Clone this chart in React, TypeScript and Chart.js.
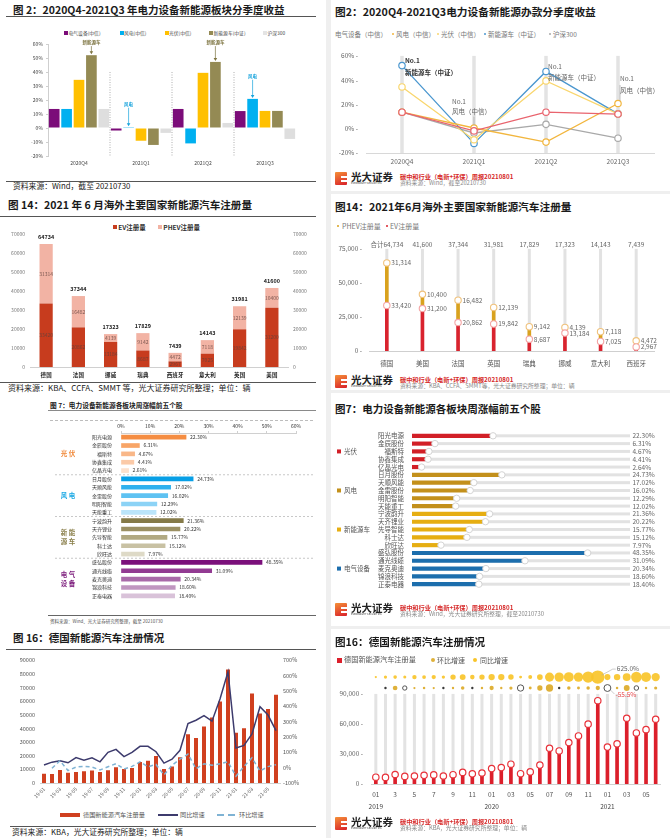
import React, { useEffect, useRef } from 'react';
import { Chart, registerables } from 'chart.js';

Chart.register(...registerables);

const FONT = '"Noto Sans CJK SC", "Noto Sans", sans-serif';
const SERIF = '"Noto Sans CJK SC", "DejaVu Serif", serif';
Chart.defaults.font.family = FONT;

// ---------------- data ----------------
const quarterCats = ['2020Q4', '2021Q1', '2021Q2', '2021Q3'];
const elecEquipRet = [13.6, -1.8, 13.6, 12.1];
const windPowerRet = [13.6, 0.6, -11.0, 20.8];
const solarPVRet = [34.4, -9.1, 39.4, 12.2];
const nevSectorRet = [52.0, -12.1, 47.2, 12.2];
const csi300Ret = [13.6, -3.5, 3.6, -7.8];
const quarterNamesL = ['电气设备(中信)', '风电(中信)', '光伏(中信)', '新能源车(中证)', '沪深300'];
const quarterNamesR = ['电气设备（中信）', '风电（中信）', '光伏（中信）', '新能源车（中证）', '沪深300'];

const countriesL = ['德国', '法国', '挪威', '瑞典', '西班牙', '意大利', '英国', '美国'];
const evL = [33420, 20862, 13184, 8687, 2967, 7025, 19842, 31200];
const phevL = [31314, 16482, 4139, 9142, 4472, 7118, 12139, 10400];
const totalL = [64734, 37344, 17323, 17829, 7439, 14143, 31981, 41600];

const countriesR = ['德国', '美国', '法国', '英国', '瑞典', '挪威', '意大利', '西班牙'];
const evR = [33420, 31200, 20862, 19842, 8687, 13184, 7025, 2967];
const phevR = [31314, 10400, 16482, 12139, 9142, 4139, 7118, 4472];
const totalR = [64734, 41600, 37344, 31981, 17829, 17323, 14143, 7439];

const stockNames = ['阳光电源', '金辰股份', '福斯特', '协鑫集成', '亿晶光电', '日月股份', '天顺风能', '金雷股份', '明阳智能', '天能重工', '宁波韵升', '天齐锂业', '先导智能', '科士达', '欣旺达', '盛弘股份', '通光线缆', '麦克奥迪', '锦浪科技', '正泰电器'];
const weeklyGainL = [22.30, 6.31, 4.67, 4.41, 2.61, 24.73, 17.02, 16.02, 12.29, 12.02, 21.36, 20.22, 15.77, 15.12, 7.97, 48.35, 31.09, 20.34, 18.60, 18.40];
const weeklyGainR = [22.30, 6.31, 4.67, 4.41, 2.64, 24.73, 17.02, 16.02, 12.29, 12.02, 21.36, 20.22, 15.77, 15.12, 7.97, 48.35, 31.09, 20.34, 18.60, 18.40];
const sectorNames = ['光伏', '风电', '新能源车', '电气设备'];
const stockSector = [0, 0, 0, 0, 0, 1, 1, 1, 1, 1, 2, 2, 2, 2, 2, 3, 3, 3, 3, 3];

const monthCats = ['19-01', '19-02', '19-03', '19-04', '19-05', '19-06', '19-07', '19-08', '19-09', '19-10', '19-11', '19-12',
  '20-01', '20-02', '20-03', '20-04', '20-05', '20-06', '20-07', '20-08', '20-09', '20-10', '20-11', '20-12',
  '21-01', '21-02', '21-03', '21-04', '21-05', '21-06'];
const germanyNEV = [6800, 6600, 9500, 7600, 8000, 8700, 9100, 8000, 9300, 11600, 10200, 11000,
  15400, 16400, 19800, 10300, 12100, 18900, 35700, 33000, 41400, 48000, 59800, 83200,
  36900, 40100, 65700, 51000, 54300, 64700];
const germanyYoY = [17, 36, 45, 32, 66, 49, 64, 38, 100, 119, 72, 100,
  139, 139, 104, 30, 55, 113, 288, 309, 339, 303, 448, 625,
  128, 145, 220, 397, 343, 241];
const germanyMoM = [null, -4, 45, -19, 4, 9, 4, -15, 6, 26, -9, 8,
  38, 6, 21, -48, 16, 55, 88, -7, 25, 16, 25, 38,
  -55.5, 8, 64, -22, 7, 19];
const monthTicksR = ['01', '3', '5', '7', '9', '11', '01', '03', '05', '07', '09', '11', '01', '03', '05'];
const yearLabels = ['2019', '2020', '2021'];
const r4YTicks = [0, 30000, 60000, 90000];

// ---------------- helpers ----------------
function Txt(p: any) {
  const { x, y, s, c = '#222', b = false, f = FONT, align = 'left', ls = 0, children } = p;
  const tx = align === 'left' ? '0' : align === 'center' ? '-50%' : '-100%';
  return (
    <div style={{ position: 'absolute', left: x, top: y, fontSize: s, color: c, fontWeight: b ? 700 : 400, fontFamily: f, whiteSpace: 'nowrap', lineHeight: 1, transform: `translate(${tx},-50%)`, letterSpacing: ls }}>
      {children}
    </div>
  );
}
function HLine(p: any) {
  const { x1, x2, y, c = '#444', w = 1, dash = false } = p;
  return <div style={{ position: 'absolute', left: x1, top: y - w / 2, width: x2 - x1, height: 0, borderTop: `${w}px ${dash ? 'dashed' : 'solid'} ${c}` }} />;
}
function Box(p: any) {
  const { x, y, w, h, c, r = 0, border } = p;
  return <div style={{ position: 'absolute', left: x, top: y, width: w, height: h, background: c, borderRadius: r, border, boxSizing: 'border-box' }} />;
}
function ChartBox(p: any) {
  const { x, y, w, h, config } = p;
  const ref = useRef<HTMLCanvasElement>(null);
  useEffect(() => {
    const ch = new Chart(ref.current as any, config());
    return () => ch.destroy();
  }, []);
  return (
    <div style={{ position: 'absolute', left: x, top: y, width: w, height: h }}>
      <canvas ref={ref} width={w} height={h} style={{ width: w, height: h, display: 'block' }} />
    </div>
  );
}
function Logo(p: any) {
  const { top, source } = p;
  return (
    <>
      <div style={{ position: 'absolute', left: 335, top, width: 12, height: 13, background: 'linear-gradient(160deg,#f59038,#d8202a)', borderRadius: 1 }} />
      <Box x={341} y={top + 3.5} w={6} h={2} c="#fff" />
      <Box x={341} y={top + 7.5} w={6} h={2} c="#fff" />
      <Txt x={351} y={top + 5} s={10.5} b c="#222">光大证券</Txt>
      <Txt x={351} y={top + 11.3} s={2.6} c="#444">EVERBRIGHT SECURITIES</Txt>
      <Txt x={400} y={top + 4.5} s={6.2} b c="#d62a2a" f={SERIF}>碳中和行业（电新+环保）周报20210801</Txt>
      <Txt x={400} y={top + 10.8} s={5.8} c="#8a8a8a">{source}</Txt>
    </>
  );
}
const baseOpts = { animation: false, responsive: false, maintainAspectRatio: false, events: [] };
const noPlug = { legend: { display: false }, tooltip: { enabled: false } };
const NOGRID = { display: false, drawTicks: false };
const fmt = (v: number) => v.toLocaleString('en-US');

// ---------------- L1 ----------------
const l1Colors = ['#7b0c79', '#00b0f0', '#ffc000', '#948a54', '#dedede'];
const l1Series = [elecEquipRet, windPowerRet, solarPVRet, nevSectorRet, csi300Ret];
function cfgL1() {
  const notes = [
    { cat: 0, ds: 3, text: '新能源车', color: '#7d7440', at: 61 },
    { cat: 1, ds: 1, text: '风电', color: '#16a3dc', at: 17 },
    { cat: 2, ds: 3, text: '新能源车', color: '#7d7440', at: 61 },
    { cat: 3, ds: 1, text: '风电', color: '#16a3dc', at: 37 },
  ];
  const plug = {
    id: 'l1notes',
    afterDatasetsDraw(chart: any) {
      const { ctx, scales: { x, y }, chartArea } = chart;
      ctx.save();
      ctx.strokeStyle = '#9a9a9a'; ctx.lineWidth = 0.8; ctx.setLineDash([1, 1.5]);
      for (let i = 1; i < quarterCats.length; i++) {
        const xb = (x.getPixelForValue(i - 1) + x.getPixelForValue(i)) / 2;
        ctx.beginPath(); ctx.moveTo(xb, y.getPixelForValue(40)); ctx.lineTo(xb, chartArea.bottom); ctx.stroke();
      }
      ctx.setLineDash([]);
      ctx.font = `bold 4.5px ${FONT}`; ctx.textAlign = 'center'; ctx.textBaseline = 'middle';
      notes.forEach((n) => {
        const el = chart.getDatasetMeta(n.ds).data[n.cat];
        const ty = y.getPixelForValue(n.at);
        ctx.fillStyle = n.color; ctx.strokeStyle = n.color; ctx.lineWidth = 0.7;
        ctx.fillText(n.text, el.x, ty);
        const top = Math.min(el.y, el.base) - 1;
        ctx.beginPath(); ctx.moveTo(el.x, ty + 3.5); ctx.lineTo(el.x, top - 2); ctx.stroke();
        ctx.beginPath(); ctx.moveTo(el.x - 1.8, top - 3); ctx.lineTo(el.x + 1.8, top - 3); ctx.lineTo(el.x, top); ctx.closePath(); ctx.fill();
      });
      ctx.restore();
    },
  };
  return {
    type: 'bar',
    data: {
      labels: quarterCats,
      datasets: l1Series.map((d, i) => ({ label: quarterNamesL[i], data: d, backgroundColor: l1Colors[i], categoryPercentage: 1, barPercentage: 0.86 })),
    },
    options: {
      ...baseOpts,
      layout: { padding: { top: 5, right: 29, left: 0, bottom: 0 } },
      plugins: noPlug,
      scales: {
        x: { grid: NOGRID, border: { display: false }, ticks: { font: { size: 5 }, color: '#444', padding: 4 }, afterFit: (s: any) => { s.height = 16; } },
        y: { min: -20, max: 60, ticks: { stepSize: 10, callback: (v: any) => v + '%', font: { size: 5 }, color: '#444', padding: 3 }, grid: { drawOnChartArea: false, tickLength: 2, color: '#cfcfcf' }, border: { color: '#cfcfcf' }, afterFit: (s: any) => { s.width = 48; } },
      },
    },
    plugins: [plug],
  };
}

// ---------------- L2 ----------------
function cfgL2() {
  const plug = {
    id: 'l2labels',
    afterDatasetsDraw(chart: any) {
      const { ctx } = chart;
      const evM = chart.getDatasetMeta(0), phM = chart.getDatasetMeta(1);
      ctx.save(); ctx.textAlign = 'center'; ctx.textBaseline = 'middle';
      evM.data.forEach((el: any, i: number) => {
        const ph = phM.data[i];
        ctx.font = `5px ${FONT}`; ctx.fillStyle = 'rgba(95,65,60,0.8)';
        ctx.fillText(String(evL[i]), el.x, (el.y + el.base) / 2);
        ctx.fillText(String(phevL[i]), ph.x, (ph.y + ph.base) / 2);
        ctx.font = `bold 5.5px ${FONT}`; ctx.fillStyle = '#222';
        ctx.fillText(String(totalL[i]), ph.x, ph.y - 7);
      });
      ctx.restore();
    },
  };
  const yTicks = { stepSize: 10000, callback: (v: any) => String(v), font: { size: 5 }, color: '#777', padding: 5 };
  return {
    type: 'bar',
    data: {
      labels: countriesL,
      datasets: [
        { label: 'EV注册量', data: evL, backgroundColor: '#c73c1e', categoryPercentage: 1, barPercentage: 0.41 },
        { label: 'PHEV注册量', data: phevL, backgroundColor: '#f2b3a4', categoryPercentage: 1, barPercentage: 0.41 },
      ],
    },
    options: {
      ...baseOpts,
      layout: { padding: { top: 9, right: 0, left: 0, bottom: 0 } },
      plugins: noPlug,
      scales: {
        x: { stacked: true, grid: NOGRID, border: { color: '#d0d0d0' }, ticks: { font: { size: 5.5, weight: 'bold' }, color: '#222', padding: 5 }, afterFit: (s: any) => { s.height = 13; } },
        y: { stacked: true, min: 0, max: 70000, ticks: yTicks, grid: NOGRID, border: { display: false }, afterFit: (s: any) => { s.width = 30; } },
        y1: { position: 'right', min: 0, max: 70000, ticks: yTicks, grid: NOGRID, border: { display: false }, afterFit: (s: any) => { s.width = 37; } },
      },
    },
    plugins: [plug],
  };
}

// ---------------- L3 ----------------
const l3Palettes = [
  ['#f58d42', '#f8a567', '#f9b788', '#fbcaa8', '#fde1cd'],
  ['#079fe6', '#30b1ee', '#5ec2f2', '#8cd3f6', '#bbe5fa'],
  ['#857a48', '#9b9063', '#b1a982', '#c8c1a3', '#dedac7'],
  ['#7b107b', '#923b92', '#a96aa9', '#c096c0', '#d9c2d9'],
];
const l3Colors = stockSector.map((g, i) => l3Palettes[g][i % 5]);
function cfgL3() {
  const groups = [
    { lines: ['光 伏'], color: '#f08a3c', from: 0, to: 4 },
    { lines: ['风 电'], color: '#19a8e4', from: 5, to: 9 },
    { lines: ['新 能', '源 车'], color: '#8a7f4a', from: 10, to: 14 },
    { lines: ['电 气', '设 备'], color: '#7b1a7b', from: 15, to: 19 },
  ];
  const plug = {
    id: 'l3labels',
    afterDatasetsDraw(chart: any) {
      const { ctx, scales: { y } } = chart;
      ctx.save();
      ctx.font = `5px ${FONT}`; ctx.fillStyle = '#333'; ctx.textAlign = 'left'; ctx.textBaseline = 'middle';
      chart.getDatasetMeta(0).data.forEach((el: any, i: number) => {
        ctx.fillText(weeklyGainL[i].toFixed(2) + '%', el.x + 4, el.y);
      });
      groups.forEach((g, gi) => {
        const cy = (y.getPixelForValue(g.from) + y.getPixelForValue(g.to)) / 2;
        ctx.font = `bold 6.5px ${SERIF}`; ctx.fillStyle = g.color; ctx.textAlign = 'center';
        if (g.lines.length === 1) ctx.fillText(g.lines[0], 68, cy);
        else { ctx.fillText(g.lines[0], 68, cy - 4.5); ctx.fillText(g.lines[1], 68, cy + 4.5); }
        if (gi < groups.length - 1) {
          const sy = (y.getPixelForValue(g.to) + y.getPixelForValue(g.to + 1)) / 2;
          ctx.strokeStyle = '#b0b0b0'; ctx.lineWidth = 0.7; ctx.setLineDash([2, 2]);
          ctx.beginPath(); ctx.moveTo(55, sy); ctx.lineTo(315, sy); ctx.stroke(); ctx.setLineDash([]);
        }
      });
      ctx.restore();
    },
  };
  return {
    type: 'bar',
    data: { labels: stockNames, datasets: [{ label: '周涨幅', data: weeklyGainL, backgroundColor: l3Colors, barThickness: 4 }] },
    options: {
      ...baseOpts,
      indexAxis: 'y',
      layout: { padding: { top: 0, right: 29, left: 0, bottom: 2 } },
      plugins: noPlug,
      scales: {
        x: { position: 'top', min: 0, max: 60, ticks: { stepSize: 10, callback: (v: any) => v + '%', font: { size: 5 }, color: '#333', padding: 2 }, grid: { drawOnChartArea: false, tickLength: 2, color: '#d0d0d0' }, border: { color: '#d0d0d0' }, afterFit: (s: any) => { s.height = 14; } },
        y: { grid: NOGRID, border: { display: false }, ticks: { autoSkip: false, font: { size: 5 }, color: '#333', padding: 9 }, afterFit: (s: any) => { s.width = 121; } },
      },
    },
    plugins: [plug],
  };
}

// ---------------- L4 ----------------
function cfgL4() {
  return {
    type: 'bar',
    data: {
      labels: monthCats,
      datasets: [
        { type: 'line', label: '环比增速', data: germanyMoM, yAxisID: 'y1', borderColor: '#7fb3d4', borderWidth: 1.5, borderDash: [4, 3], pointRadius: 0, tension: 0, order: 0 },
        { type: 'line', label: '同比增速', data: germanyYoY, yAxisID: 'y1', borderColor: '#3d3b6d', borderWidth: 1.5, pointRadius: 0, tension: 0, order: 1 },
        { label: '德国新能源汽车注册量', data: germanyNEV, yAxisID: 'y', backgroundColor: '#d0401f', categoryPercentage: 1, barPercentage: 0.5, order: 2 },
      ],
    },
    options: {
      ...baseOpts,
      layout: { padding: { top: 6, right: 0, left: 0, bottom: 0 } },
      plugins: noPlug,
      scales: {
        x: { grid: NOGRID, border: { color: '#d0d0d0' }, ticks: { autoSkip: false, minRotation: 45, maxRotation: 45, font: { size: 5 }, color: '#555', padding: 3, callback: (v: any, i: number) => (i % 2 === 0 ? monthCats[i] : '') }, afterFit: (s: any) => { s.height = 22; } },
        y: { min: 0, max: 90000, ticks: { stepSize: 10000, callback: (v: any) => String(v), font: { size: 5.5 }, color: '#555', padding: 5 }, grid: NOGRID, border: { display: false }, afterFit: (s: any) => { s.width = 40; } },
        y1: { position: 'right', min: -100, max: 700, ticks: { stepSize: 100, callback: (v: any) => v + '%', font: { size: 5.5 }, color: '#555', padding: 3 }, grid: NOGRID, border: { display: false }, afterFit: (s: any) => { s.width = 45; } },
      },
    },
  };
}

// ---------------- R1 ----------------
const r1Colors = ['#e9646e', '#f2b63e', '#f9d66e', '#4b97cf', '#a9a9a9'];
function cfgR1() {
  const tracks = {
    id: 'r1tracks',
    beforeDatasetsDraw(chart: any) {
      const { ctx, scales: { x, y }, chartArea } = chart;
      ctx.save(); ctx.fillStyle = '#e3e3e3';
      quarterCats.forEach((_, i) => {
        const px = x.getPixelForValue(i), top = y.getPixelForValue(60);
        ctx.fillRect(px - 1.75, top, 3.5, chartArea.bottom - top);
      });
      ctx.restore();
    },
  };
  const notes = [
    { cat: 0, dx: 3, a: 56.5, b: 46.5, t2: '新能源车（中证）', bold: true },
    { cat: 1, dx: -22, a: 22.5, b: 14, t2: '风电（中信）', bold: false, lead: [10, 3], ldx: 0 },
    { cat: 2, dx: 2, a: 51.5, b: 42, t2: '新能源车（中证）', bold: false },
    { cat: 3, dx: 2, a: 41, b: 31.5, t2: '风电（中信）', bold: false, lead: [36, 23], ldx: 2 },
  ];
  const notePlug = {
    id: 'r1notes',
    afterDatasetsDraw(chart: any) {
      const { ctx, scales: { x, y } } = chart;
      ctx.save(); ctx.textAlign = 'left'; ctx.textBaseline = 'middle';
      notes.forEach((n: any) => {
        const px = x.getPixelForValue(n.cat);
        ctx.font = `${n.bold ? 'bold ' : ''}6.5px ${FONT}`;
        ctx.fillStyle = n.bold ? '#333' : '#666';
        ctx.fillText('No.1', px + n.dx, y.getPixelForValue(n.a));
        ctx.fillText(n.t2, px + n.dx, y.getPixelForValue(n.b));
        if (n.lead) {
          ctx.strokeStyle = '#999'; ctx.lineWidth = 0.6;
          ctx.beginPath(); ctx.moveTo(px + n.ldx, y.getPixelForValue(n.lead[0])); ctx.lineTo(px + n.ldx, y.getPixelForValue(n.lead[1])); ctx.stroke();
        }
      });
      ctx.restore();
    },
  };
  const series = [elecEquipRet, windPowerRet, solarPVRet, nevSectorRet, csi300Ret];
  return {
    type: 'line',
    data: {
      labels: quarterCats,
      datasets: series.map((d, i) => ({ label: quarterNamesR[i], data: d, borderColor: r1Colors[i], borderWidth: 1.3, pointRadius: 3.2, pointBackgroundColor: '#fff', pointBorderColor: r1Colors[i], pointBorderWidth: 1.2, tension: 0 })),
    },
    options: {
      ...baseOpts,
      layout: { padding: { top: 8, right: 16, left: 0, bottom: 0 } },
      plugins: noPlug,
      scales: {
        x: { offset: true, grid: NOGRID, border: { color: '#d8d8d8' }, ticks: { font: { size: 6.5 }, color: '#666', padding: 5 }, afterFit: (s: any) => { s.height = 14; } },
        y: { min: -20, max: 60, ticks: { stepSize: 20, callback: (v: any) => v + '% -', font: { size: 6.5 }, color: '#666', padding: 8 }, grid: NOGRID, border: { display: false }, afterFit: (s: any) => { s.width = 31; } },
      },
    },
    plugins: [tracks, notePlug],
  };
}

// ---------------- R2 ----------------
function cfgR2() {
  const tracks = {
    id: 'r2tracks',
    beforeDatasetsDraw(chart: any) {
      const { ctx, scales: { x, y }, chartArea } = chart;
      ctx.save(); ctx.fillStyle = '#e2e2e2';
      countriesR.forEach((_, i) => {
        const px = x.getPixelForValue(i), top = y.getPixelForValue(75000);
        ctx.fillRect(px - 1.5, top, 3, chartArea.bottom - top);
      });
      ctx.restore();
    },
  };
  const labels = {
    id: 'r2labels',
    afterDatasetsDraw(chart: any) {
      const { ctx, scales: { y } } = chart;
      ctx.save(); ctx.font = `6.5px ${FONT}`; ctx.fillStyle = '#666'; ctx.textBaseline = 'middle';
      const evM = chart.getDatasetMeta(0), totM = chart.getDatasetMeta(1);
      evM.data.forEach((p: any, i: number) => {
        const t = totM.data[i];
        ctx.textAlign = 'left';
        ctx.fillText(fmt(evR[i]), p.x + 4.5, p.y);
        ctx.fillText(fmt(phevR[i]), t.x + 4.5, t.y);
        ctx.textAlign = 'center';
        ctx.fillText((i === 0 ? '合计' : '') + fmt(totalR[i]), t.x, y.getPixelForValue(75000) - 4);
      });
      ctx.restore();
    },
  };
  return {
    type: 'bar',
    data: {
      labels: countriesR,
      datasets: [
        { type: 'line', label: 'EV点', data: evR, yAxisID: 'y2', showLine: false, pointRadius: 3.2, pointBackgroundColor: '#fff', pointBorderColor: '#f4a4a4', pointBorderWidth: 1.1, order: 0 },
        { type: 'line', label: '合计点', data: totalR, yAxisID: 'y2', showLine: false, pointRadius: 3.2, pointBackgroundColor: '#fff', pointBorderColor: '#f0c27c', pointBorderWidth: 1.1, order: 0 },
        { label: 'EV注册量', data: evR, backgroundColor: '#d9232e', barThickness: 3, order: 1 },
        { label: 'PHEV注册量', data: phevR, backgroundColor: '#d9a21e', barThickness: 3, order: 1 },
      ],
    },
    options: {
      ...baseOpts,
      layout: { padding: { top: 9, right: 16, left: 0, bottom: 0 } },
      plugins: noPlug,
      scales: {
        x: { stacked: true, grid: NOGRID, border: { color: '#cfcfcf' }, ticks: { font: { size: 6.5 }, color: '#555', padding: 9 }, afterFit: (s: any) => { s.height = 18; } },
        y: { stacked: true, min: 0, max: 75000, ticks: { stepSize: 25000, callback: (v: any) => fmt(v) + ' -', font: { size: 6.5 }, color: '#666', padding: 7 }, grid: NOGRID, border: { display: false }, afterFit: (s: any) => { s.width = 34; } },
        y2: { display: false, min: 0, max: 75000 },
      },
    },
    plugins: [tracks, labels],
  };
}

// ---------------- R3 ----------------
const r3SectorColors = ['#d21f27', '#c3901b', '#e6ae12', '#1c6ead'];
function cfgR3() {
  const tracks = {
    id: 'r3tracks',
    beforeDatasetsDraw(chart: any) {
      const { ctx, scales: { y }, chartArea } = chart;
      ctx.save(); ctx.fillStyle = '#e2e2e2';
      stockNames.forEach((_, i) => {
        const py = y.getPixelForValue(i);
        ctx.fillRect(chartArea.left, py - 1.5, chartArea.right - chartArea.left, 3);
      });
      ctx.restore();
    },
  };
  const labels = {
    id: 'r3labels',
    afterDatasetsDraw(chart: any) {
      const { ctx, scales: { y }, chartArea } = chart;
      ctx.save(); ctx.font = `6.5px ${FONT}`; ctx.fillStyle = '#666'; ctx.textBaseline = 'middle'; ctx.textAlign = 'left';
      weeklyGainR.forEach((v, i) => ctx.fillText(v.toFixed(2) + '%', chartArea.right + 2.5, y.getPixelForValue(i)));
      sectorNames.forEach((name, g) => {
        const cy = (y.getPixelForValue(g * 5) + y.getPixelForValue(g * 5 + 4)) / 2;
        ctx.fillStyle = r3SectorColors[g];
        ctx.fillRect(2, cy - 2, 4, 4);
        ctx.fillStyle = '#555';
        ctx.fillText(name, 9, cy);
      });
      ctx.restore();
    },
  };
  const colors = stockSector.map((g) => r3SectorColors[g]);
  return {
    type: 'bar',
    data: {
      labels: stockNames,
      datasets: [
        { type: 'line', indexAxis: 'y', label: '端点', data: weeklyGainR, showLine: false, pointRadius: 3.2, pointBackgroundColor: '#fff', pointBorderColor: '#d4d4d4', pointBorderWidth: 1, order: 0 },
        { label: '周涨幅', data: weeklyGainR, backgroundColor: colors, barThickness: 3.5, order: 1 },
      ],
    },
    options: {
      ...baseOpts,
      indexAxis: 'y',
      layout: { padding: { top: 4.7, right: 40, left: 0, bottom: 2.7 } },
      plugins: noPlug,
      scales: {
        x: { display: false, min: 0, max: 60 },
        y: { grid: NOGRID, border: { display: false }, ticks: { autoSkip: false, font: { size: 6.5 }, color: '#555', padding: 8 }, afterFit: (s: any) => { s.width = 77; } },
      },
    },
    plugins: [tracks, labels],
  };
}

// ---------------- R4 ----------------
const YOY_ROW = 106800;
const MOM_ROW = 95900;
const yoyRadius = (v: number) => Math.max(1, 6.7 * Math.sqrt(Math.max(v, 0) / 625));
const momRadius = (v: number) => (v < 0 && Math.abs(v) >= 18 ? 1.5 + 0.035 * Math.abs(v) : v < 0 ? 1.2 : 1 + 0.03 * v);
function cfgR4() {
  const tracks = {
    id: 'r4tracks',
    beforeDatasetsDraw(chart: any) {
      const { ctx, scales: { x, y }, chartArea } = chart;
      ctx.save(); ctx.fillStyle = '#e3e3e3';
      monthCats.forEach((_, i) => {
        const px = x.getPixelForValue(i), top = y.getPixelForValue(90000);
        ctx.fillRect(px - 1.5, top, 3, chartArea.bottom - top);
      });
      ctx.restore();
    },
  };
  const notes = {
    id: 'r4notes',
    afterDatasetsDraw(chart: any) {
      const { ctx, scales: { x, y }, chartArea } = chart;
      ctx.save();
      ctx.font = `6.5px ${FONT}`; ctx.textBaseline = 'middle'; ctx.textAlign = 'left';
      const maxI = germanyYoY.indexOf(Math.max(...germanyYoY));
      const bx = x.getPixelForValue(maxI), by = y.getPixelForValue(YOY_ROW);
      ctx.strokeStyle = '#aaa'; ctx.lineWidth = 0.6;
      ctx.beginPath(); ctx.moveTo(bx + 4, by - 2); ctx.lineTo(bx + 15, by - 8); ctx.lineTo(bx + 18, by - 8); ctx.stroke();
      ctx.fillStyle = '#666'; ctx.fillText(germanyYoY[maxI].toFixed(1) + '%', bx + 19, by - 8.5);
      const momVals = germanyMoM.map((v) => (v === null ? 999 : v));
      const minI = momVals.indexOf(Math.min(...momVals));
      const mx = x.getPixelForValue(minI), my = y.getPixelForValue(MOM_ROW);
      ctx.beginPath(); ctx.moveTo(mx + 3, my + 2); ctx.lineTo(mx + 7, my + 6); ctx.stroke();
      ctx.fillStyle = '#e84a4e'; ctx.fillText((germanyMoM[minI] as number).toFixed(1) + '%', mx + 8, my + 7);
      ctx.fillStyle = '#444'; ctx.textAlign = 'center';
      yearLabels.forEach((t, k) => ctx.fillText(t, x.getPixelForValue(k * 12), chartArea.bottom + 23));
      ctx.restore();
    },
  };
  const momData = germanyMoM.map((v, i) => ({ x: monthCats[i], y: MOM_ROW, r: v === null ? 0 : momRadius(v), v })).filter((d) => d.v !== null);
  return {
    type: 'bar',
    data: {
      labels: monthCats,
      datasets: [
        { type: 'bubble', label: '同比增速', data: germanyYoY.map((v, i) => ({ x: monthCats[i], y: YOY_ROW, r: yoyRadius(v), v })), backgroundColor: 'rgba(248,196,42,0.92)', borderWidth: 0, clip: false, order: 0 },
        {
          type: 'bubble', label: '环比增速', data: momData, clip: false, order: 0,
          backgroundColor: (c: any) => { const v = c.raw ? c.raw.v : 0; return v >= 0 ? '#dfb13a' : Math.abs(v) >= 18 ? 'rgba(255,255,255,0)' : '#3a3a3a'; },
          borderColor: (c: any) => { const v = c.raw ? c.raw.v : 0; return v >= 0 ? '#dfb13a' : '#555'; },
          borderWidth: (c: any) => { const v = c.raw ? c.raw.v : 0; return v < 0 && Math.abs(v) >= 18 ? 1 : 0; },
        },
        { type: 'line', label: '端点', data: germanyNEV, showLine: false, pointRadius: 3.2, pointBackgroundColor: '#fff', pointBorderColor: '#e8323a', pointBorderWidth: 1.2, order: 1 },
        { label: '德国新能源汽车注册量', data: germanyNEV, backgroundColor: '#dc1f2b', barThickness: 3, order: 2 },
      ],
    },
    options: {
      ...baseOpts,
      layout: { padding: { top: 10.8, right: 9.5, left: 0, bottom: 0 } },
      plugins: noPlug,
      scales: {
        x: { grid: NOGRID, border: { color: '#d0d0d0' }, ticks: { autoSkip: false, maxRotation: 0, font: { size: 6.5 }, color: '#555', padding: 7, callback: (v: any, i: number) => (i % 2 === 0 ? monthTicksR[i / 2] : '') }, afterFit: (s: any) => { s.height = 28; } },
        y: {
          min: 0, max: 110000,
          afterBuildTicks: (s: any) => { s.ticks = r4YTicks.map((v) => ({ value: v })); },
          ticks: { callback: (v: any) => fmt(v) + ' -', font: { size: 6.5 }, color: '#666', padding: 8 },
          grid: NOGRID, border: { display: false }, afterFit: (s: any) => { s.width = 36; },
        },
      },
    },
    plugins: [tracks, notes],
  };
}

// ---------------- App ----------------
export default function App() {
  const l1Legend = [
    { x: 66, c: l1Colors[0] }, { x: 121.5, c: l1Colors[1] }, { x: 166.5, c: l1Colors[2] }, { x: 211, c: l1Colors[3] }, { x: 265, c: '#e4e4e4' },
  ];
  const r1LegendX = [335, 396, 441, 488, 553];
  return (
    <div style={{ position: 'absolute', left: 0, top: 0, width: 670, height: 838, background: '#fff', overflow: 'hidden', fontFamily: FONT }}>
      <Box x={326} y={0} w={344} h={838} c="#efefef" />
      <Box x={331} y={0} w={339} h={191} c="#fff" />
      <Box x={331} y={194} w={339} h={196} c="#fff" />
      <Box x={331} y={393} w={339} h={233} c="#fff" />
      <Box x={331} y={629} w={339} h={209} c="#fff" />

      {/* ---------- L1 ---------- */}
      <Txt x={13} y={10} s={10.5} b c="#1a1a1a">图 2：2020Q4-2021Q3 年电力设备新能源板块分季度收益</Txt>
      <HLine x1={6} x2={316} y={16.5} c="#555" />
      {l1Legend.map((it, i) => (
        <React.Fragment key={i}>
          <Box x={it.x - 2} y={31.3} w={4} h={4} c={it.c} />
          <Txt x={it.x + 2.5} y={33.3} s={4.8} c="#444">{quarterNamesL[i]}</Txt>
        </React.Fragment>
      ))}
      <ChartBox x={0} y={38} w={325} h={134} config={cfgL1} />
      <HLine x1={6} x2={316} y={181.5} c="#555" />
      <Txt x={13} y={185.5} s={7.8} c="#222">资料来源：Wind，截至 20210730</Txt>

      {/* ---------- L2 ---------- */}
      <Txt x={8} y={205} s={10.6} b c="#1a1a1a">图 14：2021 年 6 月海外主要国家新能源汽车注册量</Txt>
      <HLine x1={0} x2={316} y={216} c="#555" />
      <Box x={112.7} y={225} w={4} h={4} c="#c73c1e" />
      <Txt x={118.3} y={227} s={6.5} b c="#333">EV注册量</Txt>
      <Box x={158.3} y={225} w={4} h={4} c="#f2b3a4" />
      <Txt x={163.3} y={227} s={6.5} b c="#333">PHEV注册量</Txt>
      <ChartBox x={0} y={225} w={325} h={155} config={cfgL2} />
      <HLine x1={0} x2={316} y={382} c="#555" />
      <Txt x={8} y={388} s={8} c="#222">资料来源：KBA、CCFA、SMMT 等，光大证券研究所整理；单位：辆</Txt>

      {/* ---------- L3 ---------- */}
      <Txt x={50} y={405} s={6.7} b c="#1a1a1a">图 7：电力设备新能源各板块周涨幅前五个股</Txt>
      <HLine x1={48} x2={316} y={410.5} c="#8a8a8a" />
      <HLine x1={50} x2={313} y={420} c="#bdbdbd" dash />
      <ChartBox x={0} y={419} w={325} h={193} config={cfgL3} />
      <HLine x1={48} x2={316} y={616} c="#666" w={1.5} />

      {/* ---------- L4 ---------- */}
      <Txt x={50} y={621} s={4.5} c="#555">资料来源：Wind、光大证券研究所整理，截至 20210730</Txt>
      <Txt x={13} y={638} s={10.5} b c="#1a1a1a">图 16：德国新能源汽车注册情况</Txt>
      <HLine x1={6} x2={316} y={649} c="#555" />
      <ChartBox x={0} y={652} w={325} h={153} config={cfgL4} />
      <Box x={60} y={813} w={20} h={4} c="#d0401f" />
      <Txt x={83} y={815} s={6.2} c="#555">德国新能源汽车注册量</Txt>
      <Box x={158} y={814.2} w={20} h={1.6} c="#3d3b6d" />
      <Txt x={180} y={815} s={6.2} c="#555">同比增速</Txt>
      <Box x={217} y={814.2} w={7} h={1.6} c="#7fb3d4" />
      <Box x={228} y={814.2} w={7} h={1.6} c="#7fb3d4" />
      <Txt x={239} y={815} s={6.2} c="#555">环比增速</Txt>
      <HLine x1={10} x2={316} y={826} c="#555" />
      <Txt x={12} y={831.5} s={7.8} c="#222">资料来源：KBA，光大证券研究所整理；单位：辆</Txt>

      {/* ---------- R1 ---------- */}
      <Txt x={335} y={12} s={10.7} b c="#1a1a1a">图2：2020Q4-2021Q3电力设备新能源办款分季度收益</Txt>
      {quarterNamesR.map((n, i) => (
        <React.Fragment key={i}>
          {i > 0 && <Box x={r1LegendX[i] - 4.5} y={33} w={2.2} h={2.2} r={1.1} c={r1Colors[i]} />}
          <Txt x={r1LegendX[i]} y={34} s={6.5} c="#777">{n}</Txt>
        </React.Fragment>
      ))}
      <ChartBox x={335} y={44} w={335} h={123} config={cfgR1} />
      <Logo top={172} source="资料来源：Wind，截至20210730" />

      {/* ---------- R2 ---------- */}
      <Txt x={335} y={207} s={10.7} b c="#1a1a1a">图14：2021年6月海外主要国家新能源汽车注册量</Txt>
      <Box x={336.5} y={225} w={2.2} h={2.2} r={1.1} c="#d9a21e" />
      <Txt x={342} y={226} s={7} c="#777">PHEV注册量</Txt>
      <Box x={385.5} y={225} w={2.2} h={2.2} r={1.1} c="#d9232e" />
      <Txt x={390} y={226} s={7} c="#777">EV注册量</Txt>
      <ChartBox x={335} y={238} w={335} h={131} config={cfgR2} />
      <Logo top={375} source="资料来源：KBA、CCFA、SMMT等，光大证券研究所整理；单位：辆" />

      {/* ---------- R3 ---------- */}
      <Txt x={335} y={408.5} s={10.5} b c="#1a1a1a">图7：电力设备新能源各板块周涨幅前五个股</Txt>
      <ChartBox x={335} y={420} w={335} h={180} config={cfgR3} />
      <Logo top={603} source="资料来源：Wind，光大证券研究所整理，截至20210730" />

      {/* ---------- R4 ---------- */}
      <Txt x={335} y={641.5} s={10.6} b c="#1a1a1a">图16：德国新能源汽车注册情况</Txt>
      <Box x={337} y={657.5} w={5} h={5} c="#dc1f2b" />
      <Txt x={344} y={660} s={7.2} c="#555">德国新能源汽车注册量</Txt>
      <Box x={430.5} y={658} w={4.4} h={4.4} r={2.2} c="#dfb13a" />
      <Txt x={437} y={660} s={7} c="#555">环比增速</Txt>
      <Box x={473} y={658} w={4.4} h={4.4} r={2.2} c="#f8c42a" />
      <Txt x={480} y={660} s={7} c="#555">同比增速</Txt>
      <ChartBox x={335} y={662} w={335} h={150} config={cfgR4} />
      <Logo top={817} source="资料来源：KBA，光大证券研究所整理；单位：辆" />
    </div>
  );
}
